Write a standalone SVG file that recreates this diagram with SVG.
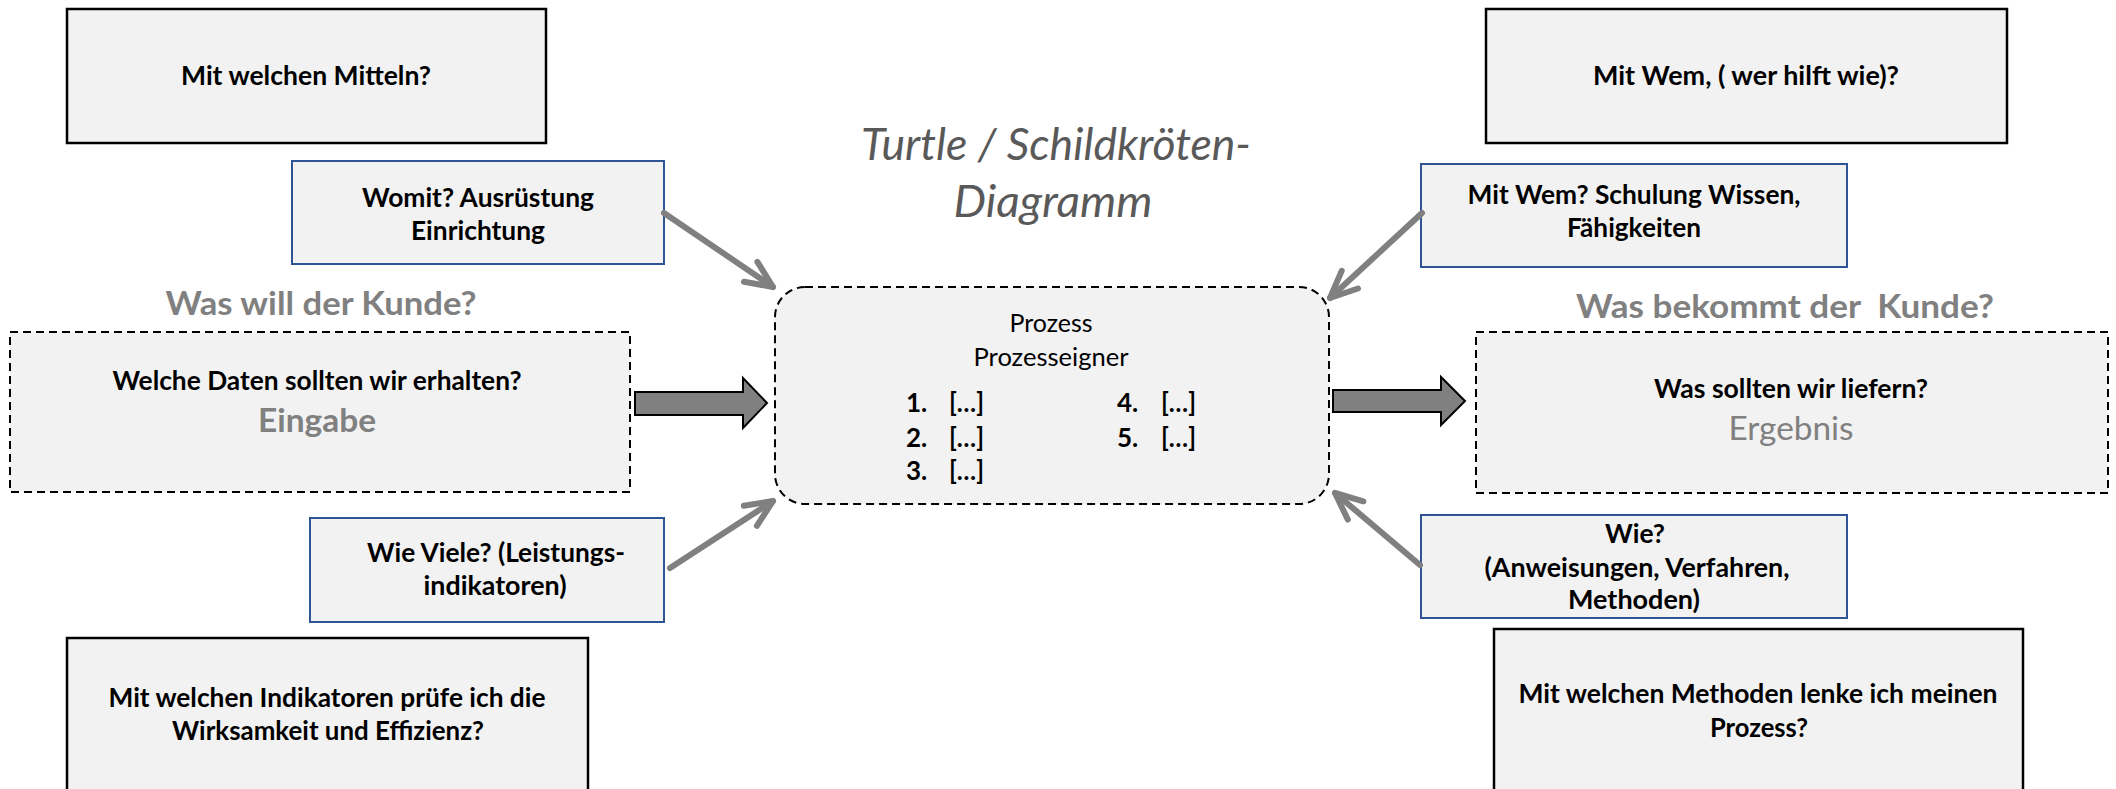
<svg xmlns="http://www.w3.org/2000/svg" width="2116" height="789" viewBox="0 0 2116 789">
  <defs>
    <style>
      .box{fill:#f2f2f2;stroke:#000;stroke-width:2.5}
      .blue{fill:#f2f2f2;stroke:#2f5597;stroke-width:2}
      .dash{fill:#f2f2f2;stroke:#000;stroke-width:2;stroke-dasharray:8 5}
      text{font-family:Lato,"Liberation Sans",sans-serif}
      .t{font-weight:bold;font-size:26.5px;fill:#000;text-anchor:middle}
      .s{font-weight:bold;font-size:26px;fill:#000}
      .r{font-weight:normal;font-size:25px;fill:#000;text-anchor:middle}
      .h{font-weight:bold;font-size:33px;fill:#808080;text-anchor:middle;white-space:pre}
      .big{font-weight:bold;font-size:32px;fill:#808080;text-anchor:middle}
      .res{font-weight:normal;font-size:32px;fill:#808080;text-anchor:middle}
      .title{font-style:italic;font-weight:normal;font-size:45px;fill:#595959;text-anchor:middle}
      .conn{stroke:#808080;stroke-width:6;fill:none;stroke-linecap:round}
      .block{fill:#808080;stroke:#000;stroke-width:2}
    </style>
    <marker id="head" markerUnits="userSpaceOnUse" viewBox="-34 -18 40 36" markerWidth="40" markerHeight="36" refX="0" refY="0" orient="auto" overflow="visible">
      <path d="M-27,-12 L0,0 L-27,12" fill="none" stroke="#808080" stroke-width="6" stroke-linecap="round" stroke-linejoin="round"/>
    </marker>
  </defs>

  <rect width="2116" height="789" fill="#fff"/>

  <!-- title -->
  <g id="title">
    <text class="title" x="1056" y="160" textLength="390" lengthAdjust="spacingAndGlyphs">Turtle / Schildkröten-</text>
    <text class="title" x="1053" y="217" textLength="199" lengthAdjust="spacingAndGlyphs">Diagramm</text>
  </g>

  <!-- left column -->
  <g id="mittel">
    <rect class="box" x="67" y="9" width="479" height="134"/>
    <text class="t" x="306" y="85" textLength="250" lengthAdjust="spacingAndGlyphs">Mit welchen Mitteln?</text>
  </g>
  <g id="womit">
    <rect class="blue" x="292" y="161" width="372" height="103"/>
    <text class="t" x="478" y="207" textLength="232" lengthAdjust="spacingAndGlyphs">Womit? Ausrüstung</text>
    <text class="t" x="478" y="240" textLength="134" lengthAdjust="spacingAndGlyphs">Einrichtung</text>
  </g>
  <g id="kunde-will">
    <text class="h" x="321" y="315" textLength="311" lengthAdjust="spacingAndGlyphs">Was will der Kunde?</text>
  </g>
  <g id="eingabe">
    <rect class="dash" x="10" y="332" width="620" height="160"/>
    <text class="t" x="317" y="390" textLength="409" lengthAdjust="spacingAndGlyphs">Welche Daten sollten wir erhalten?</text>
    <text class="big" x="317" y="432" textLength="118" lengthAdjust="spacingAndGlyphs">Eingabe</text>
  </g>
  <g id="wie-viele">
    <rect class="blue" x="310" y="518" width="354" height="104"/>
    <text class="t" x="496" y="562" textLength="258" lengthAdjust="spacingAndGlyphs">Wie Viele? (Leistungs-</text>
    <text class="t" x="495" y="595" textLength="143" lengthAdjust="spacingAndGlyphs">indikatoren)</text>
  </g>
  <g id="indikatoren">
    <rect class="box" x="67" y="638" width="521" height="170"/>
    <text class="t" x="327" y="707" textLength="437" lengthAdjust="spacingAndGlyphs">Mit welchen Indikatoren prüfe ich die</text>
    <text class="t" x="328" y="740" textLength="312" lengthAdjust="spacingAndGlyphs">Wirksamkeit und Effizienz?</text>
  </g>

  <!-- process in the middle -->
  <g id="prozess">
    <rect class="dash" x="775" y="287" width="554" height="217" rx="30" ry="30"/>
    <text class="r" x="1051" y="332" textLength="83" lengthAdjust="spacingAndGlyphs">Prozess</text>
    <text class="r" x="1051" y="366" textLength="155" lengthAdjust="spacingAndGlyphs">Prozesseigner</text>
    <text class="s" x="906" y="412">1.</text>
    <text class="s" x="949" y="412" textLength="35" lengthAdjust="spacingAndGlyphs">[…]</text>
    <text class="s" x="906" y="447">2.</text>
    <text class="s" x="949" y="447" textLength="35" lengthAdjust="spacingAndGlyphs">[…]</text>
    <text class="s" x="906" y="480">3.</text>
    <text class="s" x="949" y="480" textLength="35" lengthAdjust="spacingAndGlyphs">[…]</text>
    <text class="s" x="1117" y="412">4.</text>
    <text class="s" x="1161" y="412" textLength="35" lengthAdjust="spacingAndGlyphs">[…]</text>
    <text class="s" x="1117" y="447">5.</text>
    <text class="s" x="1161" y="447" textLength="35" lengthAdjust="spacingAndGlyphs">[…]</text>
  </g>

  <!-- right column -->
  <g id="mit-wem">
    <rect class="box" x="1486" y="9" width="521" height="134"/>
    <text class="t" x="1746" y="85" textLength="306" lengthAdjust="spacingAndGlyphs">Mit Wem, ( wer hilft wie)?</text>
  </g>
  <g id="schulung">
    <rect class="blue" x="1421" y="164" width="426" height="103"/>
    <text class="t" x="1634" y="204" textLength="333" lengthAdjust="spacingAndGlyphs">Mit Wem? Schulung Wissen,</text>
    <text class="t" x="1634" y="237" textLength="134" lengthAdjust="spacingAndGlyphs">Fähigkeiten</text>
  </g>
  <g id="kunde-bekommt">
    <text class="h" x="1785" y="318" textLength="418" lengthAdjust="spacingAndGlyphs">Was bekommt der  Kunde?</text>
  </g>
  <g id="ergebnis">
    <rect class="dash" x="1476" y="332" width="632" height="161"/>
    <text class="t" x="1791" y="398" textLength="274" lengthAdjust="spacingAndGlyphs">Was sollten wir liefern?</text>
    <text class="res" x="1791" y="440" textLength="125" lengthAdjust="spacingAndGlyphs">Ergebnis</text>
  </g>
  <g id="wie">
    <rect class="blue" x="1421" y="515" width="426" height="103"/>
    <text class="t" x="1635" y="543" textLength="60" lengthAdjust="spacingAndGlyphs">Wie?</text>
    <text class="t" x="1637" y="577" textLength="305" lengthAdjust="spacingAndGlyphs">(Anweisungen, Verfahren,</text>
    <text class="t" x="1634" y="609" textLength="132" lengthAdjust="spacingAndGlyphs">Methoden)</text>
  </g>
  <g id="methoden">
    <rect class="box" x="1494" y="629" width="529" height="180"/>
    <text class="t" x="1758" y="703" textLength="479" lengthAdjust="spacingAndGlyphs">Mit welchen Methoden lenke ich meinen</text>
    <text class="t" x="1759" y="737" textLength="98" lengthAdjust="spacingAndGlyphs">Prozess?</text>
  </g>

  <!-- connectors -->
  <g id="connectors">
    <line class="conn" x1="664" y1="213" x2="773" y2="287" marker-end="url(#head)"/>
    <line class="conn" x1="670" y1="568" x2="773" y2="501" marker-end="url(#head)"/>
    <line class="conn" x1="1422" y1="213" x2="1330" y2="298" marker-end="url(#head)"/>
    <line class="conn" x1="1420" y1="565" x2="1335" y2="493" marker-end="url(#head)"/>
    <polygon class="block" points="635,392 743,392 743,378 767,403 743,428 743,415 635,415"/>
    <polygon class="block" points="1333,390 1441,390 1441,377 1465,401 1441,425 1441,412 1333,412"/>
  </g>
</svg>
